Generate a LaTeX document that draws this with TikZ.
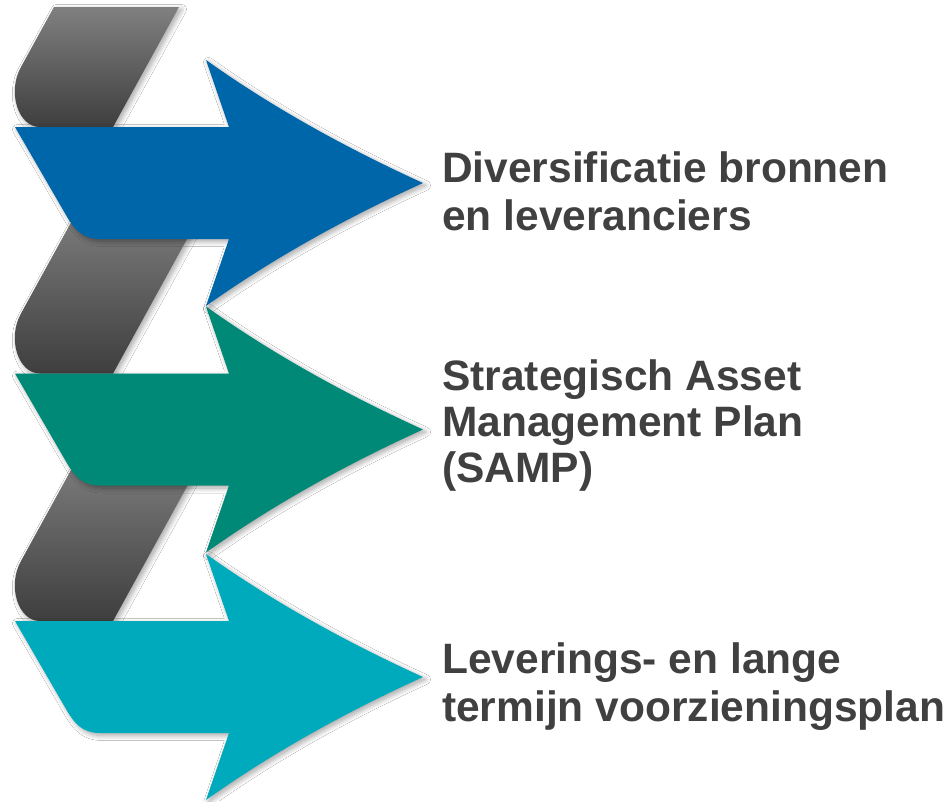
\documentclass[tikz,border=0pt]{standalone}
\usepackage{fontspec}
\setmainfont{Liberation Sans}
\usetikzlibrary{shadows.blur}
\definecolor{arrowblue}{RGB}{0,102,170}
\definecolor{arrowteal}{RGB}{0,137,118}
\definecolor{arrowcyan}{RGB}{0,170,189}
\definecolor{graytop}{RGB}{128,128,128}
\definecolor{graybot}{RGB}{62,62,62}
\definecolor{labeltext}{RGB}{64,64,64}
\tikzset{
  softshadow/.style={blur shadow={shadow xshift=2.5pt,shadow yshift=-2.5pt,shadow blur radius=5pt,shadow opacity=35,shadow blur steps=8}},
  grayband/.style={softshadow, top color=graytop, bottom color=graybot, draw=none},
  arrowbody/.style={softshadow, draw=none},
  lbl/.style={anchor=base west, inner sep=0pt, text=labeltext, font=\bfseries\fontsize{42.5}{47}\selectfont},
  pics/graystrip/.style={code={
    \pgfmathsetmacro\xr{113+0.55*#1}
    \pgfmathsetmacro\xl{\xr-125}
    \path[grayband] (\xl,-#1) -- (\xr,-#1) -- (113,0) -- (40,0)
      .. controls (18,0) and (7,-35) .. (21,-60) -- cycle;
  }},
  pics/ribbonarrow/.style={code={
    \path[arrowbody, fill=#1] (15,-56) -- (229,-56) -- (206,-123)
      .. controls (268.7,-78.3) and (341,-37.3) .. (423,0)
      .. controls (341,37.3) and (268.7,78.3) .. (206,123)
      -- (229,56) -- (100,56)
      .. controls (82,56) and (74,46) .. (66,32) -- cycle;
  }}
}
\begin{document}
\begin{tikzpicture}[x=1pt,y=-1pt]
\useasboundingbox[fill=white] (0,0) rectangle (950,801);
% gray ribbon strips
\pic at (0,127) {graystrip=120};
\pic at (0,373.5) {graystrip=170};
\pic at (0,621) {graystrip=170};
% coloured arrows
\pic at (0,183) {ribbonarrow=arrowblue};
\pic at (0,429.5) {ribbonarrow=arrowteal};
\pic at (0,677) {ribbonarrow=arrowcyan};
% labels
\node[lbl] (l1a) at (442,182) {Diversificatie bronnen};
\node[lbl] (l1b) at (442,230) {en leveranciers};
\node[lbl] (l2a) at (442,390) {Strategisch Asset};
\node[lbl] (l2b) at (442,436) {Management Plan};
\node[lbl] (l2c) at (442,482) {(SAMP)};
\node[lbl] (l3a) at (442,673) {Leverings- en lange};
\node[lbl] (l3b) at (442,721) {termijn voorzieningsplan};
\end{tikzpicture}
\end{document}
